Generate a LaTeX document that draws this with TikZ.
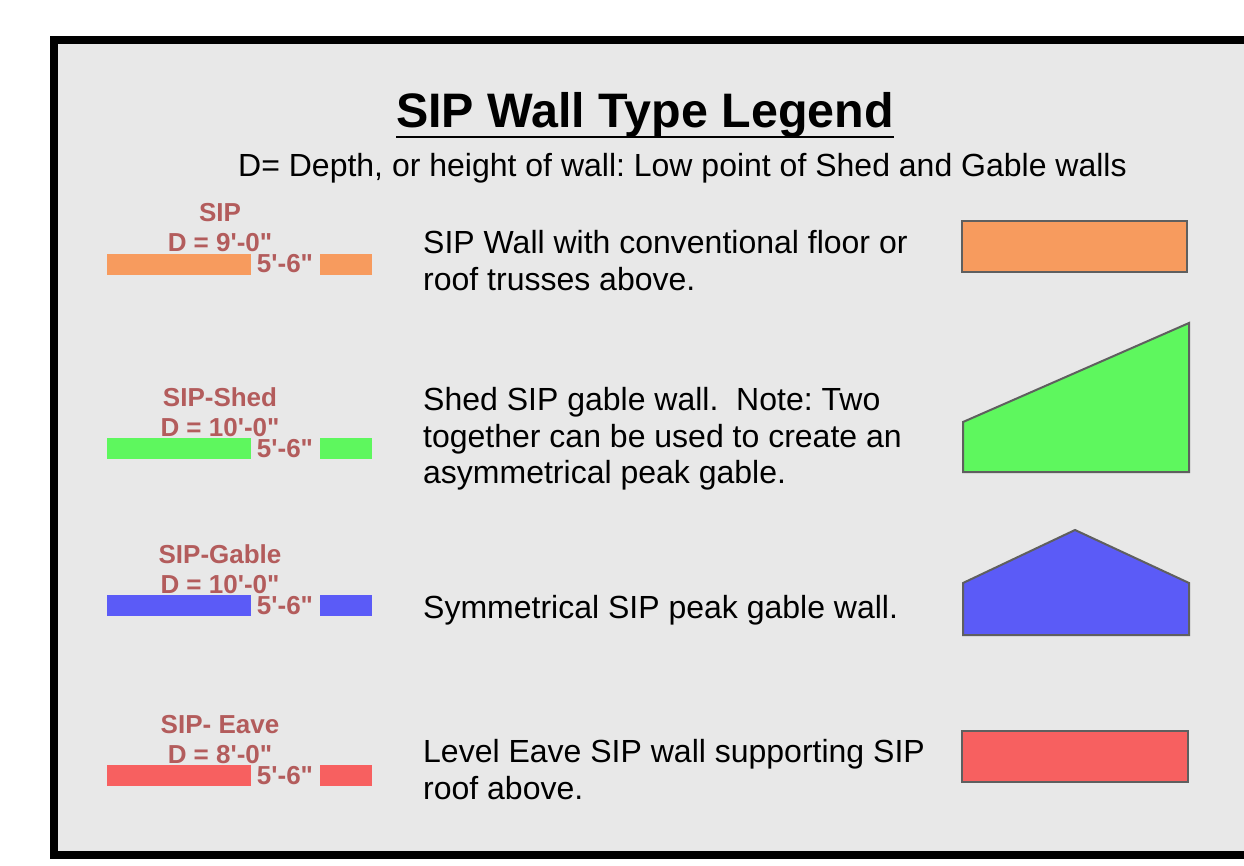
\documentclass[tikz,border=0pt]{standalone}
\usepackage{fontspec}
\setmainfont{Liberation Sans}[Ligatures=TeXOff]
\frenchspacing

\definecolor{panelGray}{HTML}{E8E8E8}
\definecolor{edgeGray}{HTML}{5F5F5F}
\definecolor{tagRed}{HTML}{B35C5C}
\definecolor{sipOrange}{HTML}{F79B5E}
\definecolor{shedGreen}{HTML}{5EF75E}
\definecolor{gableBlue}{HTML}{5B5BF7}
\definecolor{eaveRed}{HTML}{F76060}

\begin{document}
\begin{tikzpicture}[x=1pt,y=-1pt,
    tag/.style={text=tagRed,font=\fontsize{26}{26}\selectfont\bfseries,inner sep=0pt,anchor=base},
    desc/.style={font=\fontsize{32}{32}\selectfont,inner sep=0pt,anchor=base west},
    wall/.style={draw=edgeGray,line width=2pt}]
    \useasboundingbox (0,0) rectangle (1244,866);

    % Frame
    \draw[line width=8pt,fill=panelGray] (54,40) rectangle (1290,855);

    % Heading
    \node[font=\fontsize{48.4}{48.4}\selectfont\bfseries,inner sep=0pt,anchor=base] (title) at (645,128) {SIP Wall Type Legend};
    \draw[line width=2.5pt] ([yshift=-9pt]title.base west) -- ([yshift=-9pt]title.base east);
    \node[desc] (subtitle) at (238,177) {D= Depth, or height of wall: Low point of Shed and Gable walls};

    % Plan symbols with tags
    \foreach \yb/\name/\depth/\col [count=\i] in {254/SIP/9'-0"/sipOrange, 438/SIP-Shed/10'-0"/shedGreen, 595/SIP-Gable/10'-0"/gableBlue, 765/SIP- Eave/8'-0"/eaveRed} {
        \fill[\col] (107,\yb) rectangle (251,\yb+21);
        \fill[\col] (320,\yb) rectangle (372,\yb+21);
        \node[tag] (name\i) at (220,\yb-32) {\name};
        \node[tag] (depth\i) at (220,\yb-2) {D = \depth};
        \node[tag] (gap\i) at (285,\yb+19) {5'-6"};
    }

    % Descriptions
    \foreach \yb/\txt [count=\j] in {254/{SIP Wall with conventional floor or}, 291/{roof trusses above.}, 410/{Shed SIP gable wall.\ \ Note: Two}, 447/{together can be used to create an}, 483/{asymmetrical peak gable.}, 618/{Symmetrical SIP peak gable wall.}, 762/{Level Eave SIP wall supporting SIP}, 799/{roof above.}} {
        \node[desc] (line\j) at (423,\yb) {\txt};
    }

    % Elevations
    \draw[wall,fill=sipOrange] (962,221) rectangle (1187,272);
    \draw[wall,fill=shedGreen] (963,472) -- (963,422) -- (1189,323) -- (1189,472) -- cycle;
    \draw[wall,fill=gableBlue] (963,635) -- (963,583) -- (1075,530) -- (1189,583) -- (1189,635) -- cycle;
    \draw[wall,fill=eaveRed] (962,731) rectangle (1188,782);
\end{tikzpicture}
\end{document}
